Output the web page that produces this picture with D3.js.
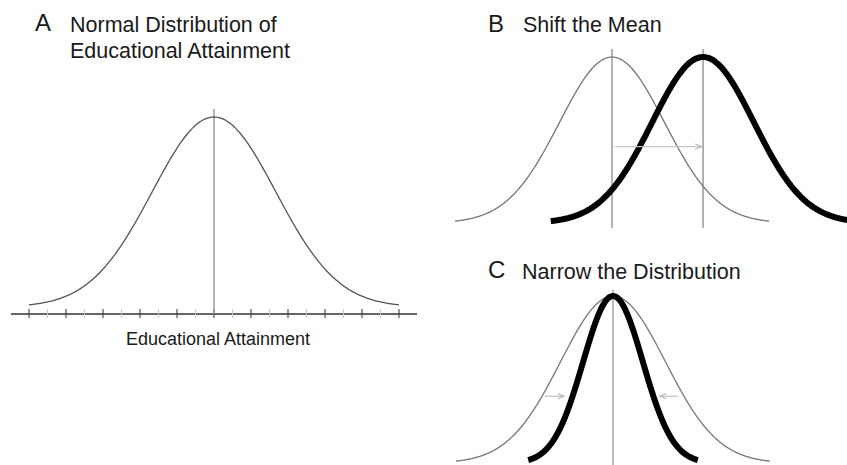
<!DOCTYPE html>
<html><head><meta charset="utf-8">
<script src="https://cdn.jsdelivr.net/npm/d3@7"></script>
<style>body{margin:0;background:#fff}svg{display:block}text{font-family:"Liberation Sans",Arial,sans-serif;fill:#1a1a1a}</style>
</head><body><svg id="c" width="847" height="465"></svg>
<script>
// ---- data (x in attainment units, heights relative to peak) ----
const panelLetters = ["A", "B", "C"];
const panelTitles = [["Normal Distribution of", "Educational Attainment"], ["Shift the Mean"], ["Narrow the Distribution"]];
const axisLabel = "Educational Attainment";
const majorTicks = [0,1,2,3,4,5,6,7,8,9,10];
const minorTicks = [0.5,1.5,2.5,3.5,4.5,5.5,6.5,7.5,8.5,9.5];
// distributions: [mean, sd, xStart, xEnd]
const distA = [5, 1.67, 0, 10];
const distBBase = [5, 1.67, 0, 10];
const distBShift = [7.9, 1.62, 3.05, 12.9];
const distCBase = [5, 1.67, 0, 10];
const distCNarrow = [5, 0.95, 2.3, 7.7];
const meanLinesB = [5, 7.9];
const arrowB = [[5.1, 7.85, 0.46]];          // [from, to, height]
const arrowsC = [[2.83, 3.44, 0.40], [7.07, 6.5, 0.40]];

const svg = d3.select("#c");
const defs = svg.append("defs");
defs.append("marker").attr("id","ah").attr("viewBox","0 0 10 10").attr("refX",9).attr("refY",5)
  .attr("markerWidth",6).attr("markerHeight",6).attr("orient","auto")
  .append("path").attr("d","M1,1.5 L9,5 L1,8.5").attr("fill","none").attr("stroke","#b5b5b5").attr("stroke-width",1.4);

function curvePts(d, n=300){
  const [m,s,a,b]=d;
  return d3.range(n+1).map(i=>{const x=a+(b-a)*i/n;const z=(x-m)/s;return [x,Math.exp(-z*z/2)];});
}
const line = (x,y)=>d3.line().x(d=>x(d[0])).y(d=>y(d[1])).curve(d3.curveBasis);

// ---- Panel A ----
const xA = d3.scaleLinear().domain([0,10]).range([29,399]);
const yA = d3.scaleLinear().domain([0,1]).range([307,117]);
const gA = svg.append("g");
gA.append("line").attr("x1",11).attr("x2",417).attr("y1",314).attr("y2",314).attr("stroke","#333").attr("stroke-width",1.4);
gA.selectAll(".mn").data(minorTicks).join("line").attr("x1",d=>xA(d)).attr("x2",d=>xA(d)).attr("y1",309).attr("y2",318).attr("stroke","#c8c8c8").attr("stroke-width",1);
gA.selectAll(".mj").data(majorTicks).join("line").attr("x1",d=>xA(d)).attr("x2",d=>xA(d)).attr("y1",309).attr("y2",318).attr("stroke","#444").attr("stroke-width",1.1);
gA.append("line").attr("x1",xA(distA[0])).attr("x2",xA(distA[0])).attr("y1",109).attr("y2",314).attr("stroke","#999").attr("stroke-width",1.5);
gA.append("path").attr("d",line(xA,yA)(curvePts(distA))).attr("fill","none").attr("stroke","#555").attr("stroke-width",1.3);
gA.append("text").attr("x",218).attr("y",345).attr("text-anchor","middle").attr("font-size",18).text(axisLabel);

// ---- Panel B ----
const xB = d3.scaleLinear().domain([0,10]).range([455,769]);
const yB = d3.scaleLinear().domain([0,1]).range([223,57]);
const gB = svg.append("g");
gB.selectAll(".ml").data(meanLinesB).join("line").attr("x1",d=>xB(d)).attr("x2",d=>xB(d)).attr("y1",49).attr("y2",228).attr("stroke","#8a8a8a").attr("stroke-width",1.3);
gB.append("path").attr("d",line(xB,yB)(curvePts(distBBase))).attr("fill","none").attr("stroke","#777").attr("stroke-width",1.3);
gB.append("path").attr("d",line(xB,yB)(curvePts(distBShift))).attr("fill","none").attr("stroke","#000").attr("stroke-width",6);
gB.selectAll(".ar").data(arrowB).join("line").attr("x1",d=>xB(d[0])).attr("x2",d=>xB(d[1])).attr("y1",d=>yB(d[2])).attr("y2",d=>yB(d[2]))
  .attr("stroke","#c4c4c4").attr("stroke-width",1.3).attr("marker-end","url(#ah)");

// ---- Panel C ----
const xC = d3.scaleLinear().domain([0,10]).range([456,770]);
const yC = d3.scaleLinear().domain([0,1]).range([463,296]);
const gC = svg.append("g");
gC.append("line").attr("x1",xC(distCBase[0])).attr("x2",xC(distCBase[0])).attr("y1",290).attr("y2",465).attr("stroke","#999").attr("stroke-width",1.3);
gC.append("path").attr("d",line(xC,yC)(curvePts(distCBase))).attr("fill","none").attr("stroke","#777").attr("stroke-width",1.3);
gC.append("path").attr("d",line(xC,yC)(curvePts(distCNarrow))).attr("fill","none").attr("stroke","#000").attr("stroke-width",6);
gC.selectAll(".ar").data(arrowsC).join("line").attr("x1",d=>xC(d[0])).attr("x2",d=>xC(d[1])).attr("y1",d=>yC(d[2])).attr("y2",d=>yC(d[2]))
  .attr("stroke","#c4c4c4").attr("stroke-width",1.3).attr("marker-end","url(#ah)");

// ---- titles ----
const letterPos = [[35,31],[488,32],[488,278]];
const titlePos = [[70,32],[523,32],[522,279]];
panelLetters.forEach((L,i)=>{
  svg.append("text").attr("x",letterPos[i][0]).attr("y",letterPos[i][1]).attr("font-size",24).text(L);
  panelTitles[i].forEach((t,j)=>{
    svg.append("text").attr("x",titlePos[i][0]).attr("y",titlePos[i][1]+j*26).attr("font-size",21.5).text(t);
  });
});
</script></body></html>
